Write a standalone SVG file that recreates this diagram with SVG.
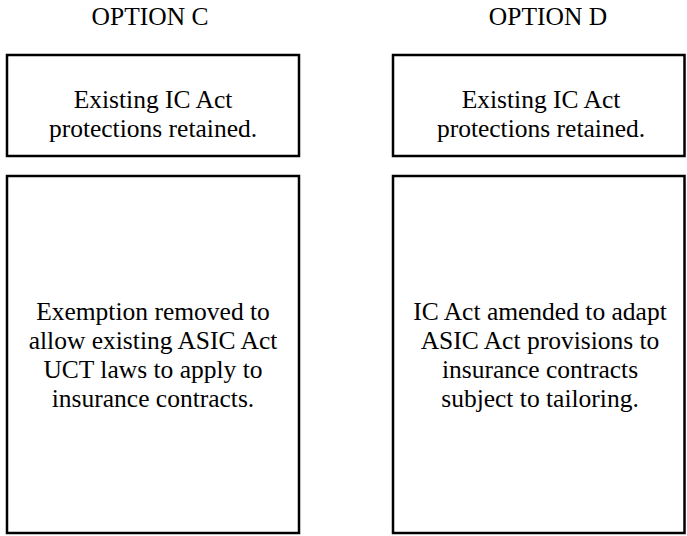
<svg xmlns="http://www.w3.org/2000/svg" width="687" height="536" viewBox="0 0 687 536">
  <style>
    .box { fill: #ffffff; stroke: #000000; stroke-width: 2.5; }
    .t { font-family: "Liberation Serif", "Times New Roman", serif; font-size: 25.5px; fill: #000000; text-anchor: middle; }
  </style>
  <rect x="0" y="0" width="687" height="536" fill="#ffffff"/>

  <g id="title-c"><text class="t" x="150" y="25">OPTION C</text></g>
  <g id="title-d"><text class="t" x="548" y="25">OPTION D</text></g>

  <g id="c-retained">
    <rect class="box" x="7" y="55" width="292" height="101"/>
    <text class="t" x="153" y="108">Existing IC Act</text>
    <text class="t" x="153" y="137">protections retained.</text>
  </g>

  <g id="d-retained">
    <rect class="box" x="393" y="55" width="291.5" height="101"/>
    <text class="t" x="541" y="108">Existing IC Act</text>
    <text class="t" x="541" y="137">protections retained.</text>
  </g>

  <g id="c-exemption">
    <rect class="box" x="7" y="176" width="292" height="357"/>
    <text class="t" x="153" y="320">Exemption removed to</text>
    <text class="t" x="153" y="349">allow existing ASIC Act</text>
    <text class="t" x="153" y="378">UCT laws to apply to</text>
    <text class="t" x="153" y="407">insurance contracts.</text>
  </g>

  <g id="d-amended">
    <rect class="box" x="393" y="176" width="291.5" height="357"/>
    <text class="t" x="540" y="320">IC Act amended to adapt</text>
    <text class="t" x="540" y="349">ASIC Act provisions to</text>
    <text class="t" x="540" y="378">insurance contracts</text>
    <text class="t" x="540" y="407">subject to tailoring.</text>
  </g>

  <g id="connectors"></g>
</svg>
